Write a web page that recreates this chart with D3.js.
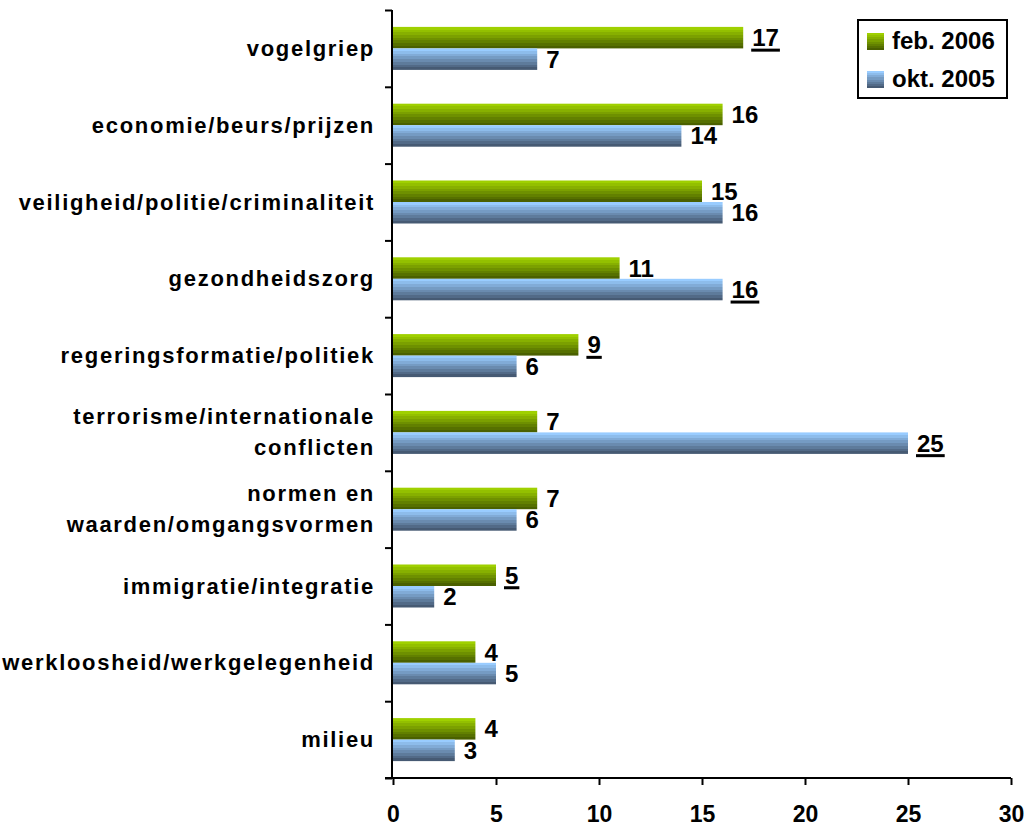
<!DOCTYPE html>
<html><head><meta charset="utf-8">
<script src="https://cdn.jsdelivr.net/npm/d3@7"></script>
<style>
html,body{margin:0;padding:0;background:#fff;}
svg{display:block;font-family:"Liberation Sans",Arial,sans-serif;font-weight:bold;}
</style></head>
<body>
<svg id="chart" width="1028" height="828"></svg>
<script>
// ---- data ----
const categories = [
  ["vogelgriep"],
  ["economie/beurs/prijzen"],
  ["veiligheid/politie/criminaliteit"],
  ["gezondheidszorg"],
  ["regeringsformatie/politiek"],
  ["terrorisme/internationale","conflicten"],
  ["normen en","waarden/omgangsvormen"],
  ["immigratie/integratie"],
  ["werkloosheid/werkgelegenheid"],
  ["milieu"]
];
const seriesNames = ["feb. 2006", "okt. 2005"];
const feb2006 = [17, 16, 15, 11, 9, 7, 7, 5, 4, 4];
const okt2005 = [7, 14, 16, 16, 6, 25, 6, 2, 5, 3];
const feb2006Underlined = [true, false, false, false, true, false, false, true, false, false];
const okt2005Underlined = [false, false, false, true, false, true, false, false, false, false];
const xTicks = [0, 5, 10, 15, 20, 25, 30];

const svg = d3.select("#chart");
const x = d3.scaleLinear().domain([0, 30]).range([393, 1011]);
const y = d3.scaleBand().domain(d3.range(categories.length)).range([10, 778])
  .paddingInner(0.44).paddingOuter(0.22);
const ySub = d3.scaleBand().domain([0, 1]).range([0, y.bandwidth()]);

// gradients (banded)
const defs = svg.append("defs");
function bandedGradient(id, top, bottom, n) {
  const g = defs.append("linearGradient").attr("id", id)
    .attr("x1", 0).attr("y1", 0).attr("x2", 0).attr("y2", 1);
  const interp = d3.interpolateRgb(top, bottom);
  for (let i = 0; i < n; i++) {
    const c = interp(i / (n - 1));
    g.append("stop").attr("offset", i / n).attr("stop-color", c);
    g.append("stop").attr("offset", (i + 1) / n).attr("stop-color", c);
  }
}
bandedGradient("gGreen", "#9fd000", "#4a6000", 8);
bandedGradient("gBlue", "#99ccff", "#465a73", 8);
const fills = ["url(#gGreen)", "url(#gBlue)"];

const series = [
  {values: feb2006, underline: feb2006Underlined},
  {values: okt2005, underline: okt2005Underlined}
];

// bars
series.forEach((s, si) => {
  svg.append("g").selectAll("rect").data(s.values).join("rect")
    .attr("x", x(0))
    .attr("y", (d, i) => y(i) + ySub(si))
    .attr("width", d => x(d) - x(0))
    .attr("height", ySub.bandwidth())
    .attr("fill", fills[si]);
});

// value labels
series.forEach((s, si) => {
  const g = svg.append("g");
  s.values.forEach((d, i) => {
    const cy = y(i) + ySub(si) + ySub.bandwidth() / 2;
    const t = g.append("text")
      .attr("x", x(d) + 9)
      .attr("y", cy + 8.5)
      .attr("font-size", 24)
      .attr("fill", "#000")
      .text(d);
    if (s.underline[i]) {
      const w = t.node().getComputedTextLength();
      g.append("rect").attr("x", x(d) + 8).attr("y", cy + 11)
        .attr("width", w + 2).attr("height", 3).attr("fill", "#000");
    }
  });
});

// y axis (ticks between categories)
const yTick = d3.scaleLinear().domain([0, categories.length]).range([10, 778]);
const yAxis = svg.append("g").attr("transform", `translate(${x(0) - 1},0)`)
  .call(d3.axisLeft(yTick).ticks(10).tickSize(7).tickFormat(""));
yAxis.select(".domain").attr("stroke", "#000").attr("stroke-width", 2).attr("d", "M0,10V778");
yAxis.selectAll(".tick line").attr("stroke", "#000").attr("stroke-width", 2);

// category labels
const lineH = 31;
categories.forEach((lines, i) => {
  const cy = y(i) + y.bandwidth() / 2;
  const t = svg.append("text")
    .attr("text-anchor", "end")
    .attr("font-size", 22)
    .attr("letter-spacing", "1.7px")
    .attr("fill", "#000");
  lines.forEach((ln, k) => {
    t.append("tspan").attr("x", 375)
      .attr("y", cy + 7.5 + (k - (lines.length - 1) / 2) * lineH)
      .text(ln);
  });
});

// x axis
const xAxis = svg.append("g").attr("transform", "translate(0,778)")
  .call(d3.axisBottom(x).tickValues(xTicks).tickSize(7));
xAxis.select(".domain").attr("stroke", "#000").attr("stroke-width", 2).attr("d", `M${x(0)-8},0H${x(30)}`);
xAxis.selectAll(".tick line").attr("stroke", "#000").attr("stroke-width", 2);
xAxis.selectAll(".tick text").attr("font-size", 23).attr("font-weight", "bold")
  .attr("font-family", "'Liberation Sans', Arial, sans-serif").attr("fill", "#000")
  .attr("dy", null).attr("y", 44);

// legend
const lg = svg.append("g");
lg.append("rect").attr("x", 858).attr("y", 20).attr("width", 149).attr("height", 78)
  .attr("fill", "#fff").attr("stroke", "#000").attr("stroke-width", 2);
seriesNames.forEach((name, k) => {
  const yy = 33 + k * 38;
  lg.append("rect").attr("x", 867).attr("y", yy).attr("width", 17).attr("height", 17)
    .attr("fill", fills[k]);
  lg.append("text").attr("x", 892).attr("y", yy + 15.5).attr("font-size", 24)
    .attr("fill", "#000").text(name);
});
</script>
</body></html>
